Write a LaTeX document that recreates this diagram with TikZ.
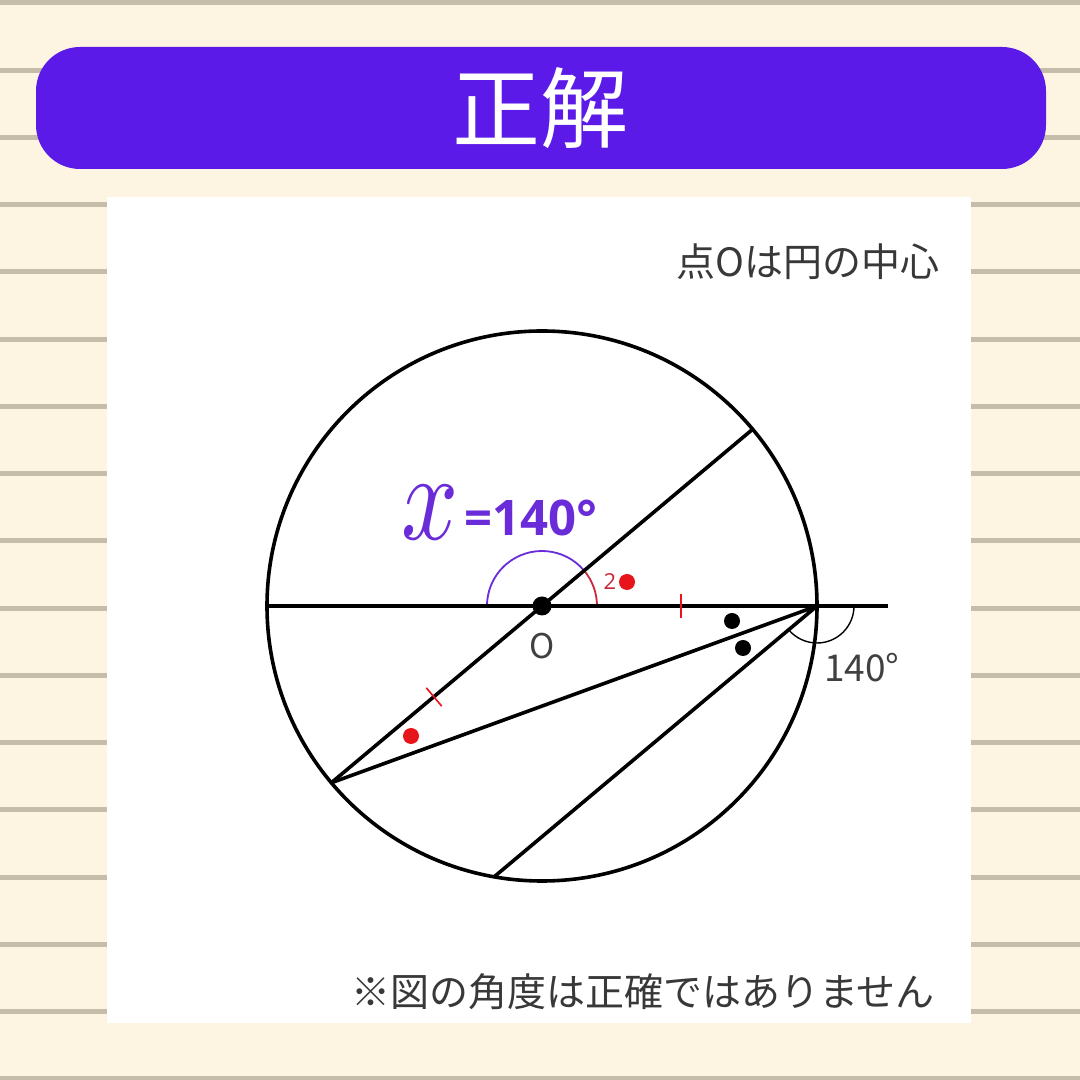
\documentclass[tikz,border=0pt]{standalone}
\usepackage{fontspec}
\usetikzlibrary{calc}
\setmainfont{Open Sans}
\newfontfamily\jpfont{Noto Sans CJK JP}
\newfontfamily\numfont{Open Sans}
\definecolor{cream}{HTML}{FDF5E1}
\definecolor{stripe}{HTML}{C5BDA9}
\definecolor{headpurple}{HTML}{5B1AE8}
\definecolor{anspurple}{HTML}{6A2BD9}
\definecolor{markred}{HTML}{E8141C}
\definecolor{arcred}{HTML}{C8283A}
\begin{document}
\begin{tikzpicture}[x=1pt,y=1pt,
  geo/.style={line width=3.6pt,black},
  tick/.style={line width=1.6pt,markred},
  dotblk/.style={circle,fill=black,inner sep=0pt,minimum size=16pt},
  dotred/.style={circle,fill=markred,inner sep=0pt,minimum size=16pt},
  thinlbl/.style={font=\jpfont\fontsize{34}{34}\selectfont,text=black!75,inner sep=0pt}]
% background
\fill[cream] (0,0) rectangle (1080,1080);
\useasboundingbox (0,0) rectangle (1080,1080);
\foreach \k in {0,...,16}{
  \pgfmathsetmacro{\yy}{1080-3-67.25*\k}
  \fill[stripe] (0,\yy-2.5) rectangle (1080,\yy+2.5);
}
% header
\fill[headpurple,rounded corners=44pt] (36,911) rectangle (1046,1033);
\node[text=white,font=\jpfont\fontsize{88}{88}\selectfont,inner sep=0pt] (title) at (540,972) {正解};
% panel
\fill[white] (107,57) rectangle (971,883);
\node[anchor=east,font=\jpfont\fontsize{39}{39}\selectfont,text=black!78,inner sep=0pt] (note1) at (940,818) {点Oは円の中心};
\node[font=\jpfont\fontsize{39}{39}\selectfont,text=black!78,inner sep=0pt] (note2) at (643,88) {※図の角度は正確ではありません};
% geometry
\coordinate (O) at (542,474);
\coordinate (A) at (752.7,650.8);
\coordinate (B) at (331.3,297.2);
\coordinate (C) at (817,474);
\coordinate (D) at (494.2,203.2);
\coordinate (L) at (267,474);
\coordinate (E) at (888,474);
\coordinate (T1) at (681,474);
\coordinate (T2) at (434,383);
% angle arcs
\draw[anspurple,line width=1.8pt] ([shift={(40:55)}]O) arc[start angle=40,end angle=180,radius=55];
\draw[arcred,line width=1.8pt] ([shift={(0:55)}]O) arc[start angle=0,end angle=40,radius=55];
\draw[black,line width=1.4pt] ([shift={(0:37)}]C) arc[start angle=0,end angle=-140,radius=37];
% lines
\draw[geo] (O) circle[radius=275];
\draw[geo] (L) -- (E);
\draw[geo] (A) -- (B);
\draw[geo,line join=round] (B) -- (C) -- (D);
% ticks
\draw[tick] ($(T1)+(0,12)$) -- ($(T1)+(0,-12)$);
\draw[tick] ($(T2)+(130:12)$) -- ($(T2)+(-50:12)$);
% dots
\node[dotblk,minimum size=19pt] (Odot) at (O) {};
\node[dotred] (rd1) at (411,344) {};
\node[dotred] (rd2) at (627,498) {};
\node[dotblk] (bd1) at (732,459) {};
\node[dotblk] (bd2) at (743,432) {};
% labels
\node[text=arcred,font=\numfont\fontsize{22}{22}\selectfont,inner sep=0pt] (two) at (610,498) {2};
\node[thinlbl] (Olbl) at (542,434) {O};
\node[thinlbl,font=\jpfont\fontsize{37}{37}\selectfont] (ang) at (862,412) {140°};
\node[text=anspurple,inner sep=0pt,anchor=base] (xv) at (430,540) {\scalebox{10}[12.5]{$x$}};
\node[text=anspurple,font=\numfont\bfseries\fontsize{49}{49}\selectfont,inner sep=0pt] (xval) at (531,562) {=140°};
\end{tikzpicture}
\end{document}
